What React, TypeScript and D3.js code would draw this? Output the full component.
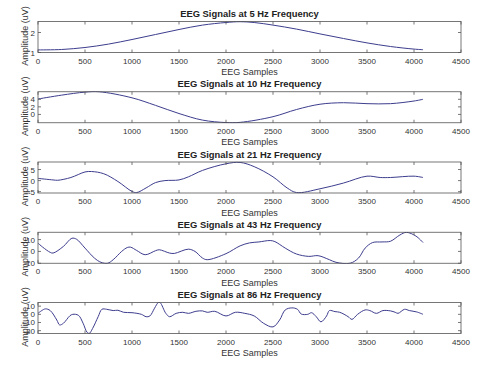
import React from "react";
import * as d3 from "d3";

const titles = [
  "EEG Signals at 5 Hz Frequency",
  "EEG Signals at 10 Hz Frequency",
  "EEG Signals at 21 Hz Frequency",
  "EEG Signals at 43 Hz Frequency",
  "EEG Signals at 86 Hz Frequency",
];

const xTicks = [0, 500, 1000, 1500, 2000, 2500, 3000, 3500, 4000, 4500];

const yDomains: [number, number][] = [
  [1, 2.55],
  [-2.2, 6],
  [-5.6, 8.4],
  [-10, 16.2],
  [-23.5, 14.5],
];

const yTicks = [
  [1, 2],
  [0, 2, 4],
  [-5, 0, 5],
  [-10, 0, 10],
  [-20, -10, 0, 10],
];

const s5x = [0, 250, 500, 750, 1000, 1250, 1500, 1750, 2000, 2150, 2300, 2500, 2750, 3000, 3250, 3500, 3750, 4000, 4096];
const s5y = [1.13, 1.15, 1.25, 1.42, 1.65, 1.9, 2.15, 2.37, 2.5, 2.54, 2.5, 2.37, 2.17, 1.93, 1.7, 1.48, 1.3, 1.17, 1.14];

const s10x = [0, 250, 500, 650, 1000, 1250, 1500, 1750, 2000, 2150, 2500, 2750, 3000, 3250, 3500, 3750, 4000, 4096];
const s10y = [4.08, 5.1, 5.9, 6.0, 4.4, 2.4, 0.24, -1.5, -2.15, -2.1, -0.6, 1.3, 2.7, 3.1, 2.85, 2.85, 3.55, 4.0];

const s21x = [0, 160, 210, 350, 500, 570, 700, 850, 1000, 1050, 1150, 1250, 1350, 1500, 1600, 1750, 2000, 2150, 2300, 2500, 2650, 2750, 3000, 3250, 3500, 3640, 3750, 4000, 4096];
const s21y = [1.0, 0.3, 0.15, 1.4, 3.9, 4.1, 3.1, -0.4, -4.9, -5.4, -3.3, -0.9, 0, 0.3, 1.7, 4.6, 7.6, 8.2, 6.3, 1.7, -3.3, -5.4, -3.7, -1.1, 2.0, 1.4, 1.4, 2.0, 1.4];

const s43x = [0, 50, 130, 160, 270, 360, 410, 500, 600, 670, 740, 800, 890, 950, 985, 1050, 1140, 1250, 1290, 1400, 1450, 1600, 1670, 1750, 1800, 2000, 2150, 2250, 2350, 2470, 2520, 2630, 2750, 2880, 2980, 3100, 3170, 3320, 3410, 3480, 3560, 3660, 3750, 3850, 3920, 4020, 4096];
const s43y = [7, 3.6, -0.8, -1.4, 4.2, 11.1, 10.3, 2.8, -5.6, -9.2, -10, -7, 0, 3.3, 3.6, 0.8, -2.8, 0.6, 1.4, -1.4, -1.7, 1.9, 0, -5.6, -7, -1.9, 4.7, 7.2, 8, 9.2, 8.3, 2.8, -2.2, -4.2, -3.6, -7, -9.2, -10, -5.6, 2.8, 7.5, 8, 8.6, 13.9, 16.1, 13, 7.5];

const s86x = [0, 40, 80, 130, 200, 230, 270, 340, 370, 430, 480, 520, 545, 580, 640, 680, 730, 800, 850, 910, 1000, 1100, 1150, 1190, 1240, 1280, 1300, 1360, 1400, 1470, 1540, 1600, 1680, 1750, 1800, 1880, 2000, 2100, 2200, 2300, 2400, 2500, 2570, 2630, 2700, 2760, 2800, 2870, 2910, 2960, 3010, 3070, 3100, 3160, 3210, 3300, 3340, 3400, 3480, 3530, 3600, 3670, 3750, 3800, 3830, 3900, 3950, 4030, 4096];
const s86y = [1.2, 4.6, 6.7, 4.6, -7, -13, -11, -1.7, 0, -1.2, -11, -21.7, -23.4, -17.5, -2.9, 6.2, 6.2, 4.6, 5, 2.5, 2, 0, -2.9, -2, 7.5, 14.5, 14.2, 1.2, -2.9, 1.2, 2.5, 1.2, 3.7, 4.2, 2.5, 3.7, -2, 2.5, 1.2, -2, -11, -15.4, -7, 5.4, 7.9, 6.2, 0.4, 0, 2, -2.9, -9.2, -2, 4.6, 3.3, 2.5, -2.9, -6.2, 0, 5.4, 4.6, 1.2, 4.6, 4.2, 2.5, 1.2, 6.2, 4.6, 2.9, 0];

const seriesX = [s5x, s10x, s21x, s43x, s86x];
const seriesY = [s5y, s10y, s21y, s43y, s86y];

const W = 480;
const H = 369;
const LEFT = 38;
const RIGHT = 461;
const TOP0 = 21.5;
const PITCH = 70.25;
const PH = 31;
const LINE = "#3d3d8e";
const AXIS = "#555";
const TEXT = "#333";
const FONT = "'Liberation Sans', Arial, sans-serif";

function Panel({ i }: { i: number }) {
  const top = TOP0 + i * PITCH;
  const bottom = top + PH;
  const x = d3.scaleLinear().domain([0, 4500]).range([LEFT, RIGHT]);
  const y = d3.scaleLinear().domain(yDomains[i]).range([bottom, top]);
  const data = seriesX[i].map((v, k) => [v, seriesY[i][k]] as [number, number]);
  const line = d3
    .line<[number, number]>()
    .x((d) => x(d[0]))
    .y((d) => y(d[1]))
    .curve(d3.curveCatmullRom.alpha(0.5));
  const tl = 3;
  const clipId = `clip${i}`;
  return (
    <g>
      <defs>
        <clipPath id={clipId}>
          <rect x={LEFT} y={top - 0.5} width={RIGHT - LEFT} height={PH + 1} />
        </clipPath>
      </defs>
      <text
        x={(LEFT + RIGHT) / 2}
        y={top - 4.5}
        textAnchor="middle"
        fontSize={9.4}
        fontWeight="bold"
        fill="#222"
        fontFamily={FONT}
      >
        {titles[i]}
      </text>
      <path d={line(data) || ""} fill="none" stroke={LINE} strokeWidth={1} clipPath={`url(#${clipId})`} />
      <rect x={LEFT} y={top} width={RIGHT - LEFT} height={PH} fill="none" stroke={AXIS} strokeWidth={0.8} />
      {xTicks.map((t) => (
        <g key={t}>
          <line x1={x(t)} x2={x(t)} y1={bottom} y2={bottom - tl} stroke={AXIS} strokeWidth={0.8} />
          <line x1={x(t)} x2={x(t)} y1={top} y2={top + tl} stroke={AXIS} strokeWidth={0.8} />
          <text x={x(t)} y={bottom + 11} textAnchor="middle" fontSize={8} fill={TEXT} fontFamily={FONT}>
            {t}
          </text>
        </g>
      ))}
      {yTicks[i].map((t) => (
        <g key={t}>
          <line x1={LEFT} x2={LEFT + tl} y1={y(t)} y2={y(t)} stroke={AXIS} strokeWidth={0.8} />
          <line x1={RIGHT} x2={RIGHT - tl} y1={y(t)} y2={y(t)} stroke={AXIS} strokeWidth={0.8} />
          <text x={35} y={y(t) + 3} textAnchor="end" fontSize={8} fill={TEXT} fontFamily={FONT}>
            {t}
          </text>
        </g>
      ))}
      <text
        x={(LEFT + RIGHT) / 2}
        y={bottom + 22.5}
        textAnchor="middle"
        fontSize={9}
        fill={TEXT}
        fontFamily={FONT}
      >
        EEG Samples
      </text>
      <text
        transform={`translate(${28},${(top + bottom) / 2 - 1}) rotate(-90)`}
        textAnchor="middle"
        fontSize={9}
        fill={TEXT}
        fontFamily={FONT}
      >
        Amplitude (uV)
      </text>
    </g>
  );
}

export default function App() {
  return (
    <svg
      width={W}
      height={H}
      viewBox={`0 0 ${W} ${H}`}
      style={{ position: "absolute", left: 0, top: 0, display: "block", background: "#fff" }}
    >
      <rect width={W} height={H} fill="#fff" />
      {titles.map((_, i) => (
        <Panel key={i} i={i} />
      ))}
    </svg>
  );
}
